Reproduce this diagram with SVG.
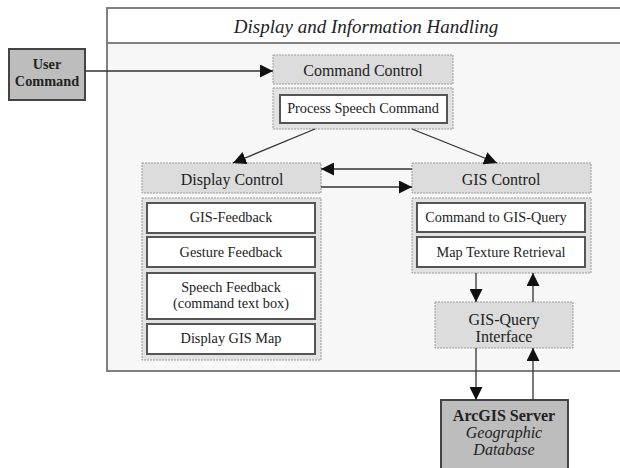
<svg xmlns="http://www.w3.org/2000/svg" width="620" height="468" viewBox="0 0 620 468">
  <style>
    text { font-family: "Liberation Serif", "Times New Roman", serif; fill: #222; text-anchor: middle; }
    .ctrl { fill: #dcdcdc; stroke: #999; stroke-width: 1; stroke-dasharray: 2 1; }
    .holder { fill: #e2e2e2; stroke: #999; stroke-width: 1; stroke-dasharray: 2 1; }
    .item { fill: #fff; stroke: #555; stroke-width: 2; }
    .ext { fill: #bdbdbd; stroke: #444; stroke-width: 2; }
    .t16 { font-size: 16px; }
    .t14 { font-size: 14.3px; }
    .b { font-weight: bold; }
    .edge { stroke: #333; stroke-width: 1.3; fill: none; marker-end: url(#head); }
  </style>
  <defs>
    <marker id="head" viewBox="0 0 10 10" refX="10" refY="5" markerWidth="13" markerHeight="13" markerUnits="userSpaceOnUse" orient="auto">
      <path d="M0,0 L10,5 L0,10 z" fill="#111"/>
    </marker>
  </defs>

  <rect width="620" height="468" fill="#fff"/>

  <!-- enclosing frame -->
  <g id="frame">
    <rect x="107" y="43" width="515" height="328" fill="#f7f7f7"/>
    <path d="M622,8 H107 V371 H622" fill="none" stroke="#808080" stroke-width="2"/>
    <path d="M107,43 H622" stroke="#808080" stroke-width="2"/>
    <text x="366" y="33" font-size="19" font-style="italic">Display and Information Handling</text>
  </g>

  <g id="user-command">
    <rect class="ext" x="9" y="49" width="76" height="51"/>
    <text class="t14 b" x="47" y="69">User</text>
    <text class="t14 b" x="47" y="86">Command</text>
  </g>

  <g id="command-control">
    <rect class="ctrl" x="273" y="55" width="180" height="29"/>
    <text class="t16" x="363" y="76">Command Control</text>
    <rect class="holder" x="273" y="88" width="180" height="41"/>
    <rect class="item" x="280" y="95" width="167" height="28"/>
    <text class="t14" x="363" y="113">Process Speech Command</text>
  </g>

  <g id="display-control">
    <rect class="ctrl" x="142" y="163" width="179" height="30"/>
    <text class="t16" x="232" y="185">Display Control</text>
    <rect class="holder" x="142" y="198" width="179" height="162"/>
    <rect class="item" x="147" y="203" width="168" height="30"/>
    <text class="t14" x="231" y="222">GIS-Feedback</text>
    <rect class="item" x="147" y="237" width="168" height="30"/>
    <text class="t14" x="231" y="257">Gesture Feedback</text>
    <rect class="item" x="147" y="273" width="168" height="46"/>
    <text class="t14" x="231" y="292">Speech Feedback</text>
    <text class="t14" x="231" y="308">(command text box)</text>
    <rect class="item" x="147" y="324" width="168" height="30"/>
    <text class="t14" x="231" y="343">Display GIS Map</text>
  </g>

  <g id="gis-control">
    <rect class="ctrl" x="412" y="163" width="179" height="30"/>
    <text class="t16" x="501" y="185">GIS Control</text>
    <rect class="holder" x="412" y="198" width="179" height="75"/>
    <rect class="item" x="417" y="203" width="168" height="29"/>
    <text class="t14" x="496" y="222">Command to GIS-Query</text>
    <rect class="item" x="417" y="237" width="168" height="30"/>
    <text class="t14" x="501" y="257">Map Texture Retrieval</text>
  </g>

  <g id="gis-query-interface">
    <rect class="ctrl" x="435" y="302" width="138" height="46"/>
    <text class="t16" x="504" y="325">GIS-Query</text>
    <text class="t16" x="504" y="342">Interface</text>
  </g>

  <g id="arcgis-server">
    <rect class="ext" x="441" y="400" width="127" height="70"/>
    <text class="t16 b" x="504" y="421">ArcGIS Server</text>
    <text class="t16" x="504" y="438" font-style="italic">Geographic</text>
    <text class="t16" x="504" y="455" font-style="italic">Database</text>
  </g>

  <g id="connectors">
    <path class="edge" d="M85,71 H273"/>
    <path class="edge" d="M315,129 L233,163"/>
    <path class="edge" d="M412,129 L497,163"/>
    <path class="edge" d="M412,169 H321"/>
    <path class="edge" d="M321,187 H412"/>
    <path class="edge" d="M476,273 V302"/>
    <path class="edge" d="M533,302 V273"/>
    <path class="edge" d="M476,348 V400"/>
    <path class="edge" d="M533,400 V348"/>
  </g>
</svg>
